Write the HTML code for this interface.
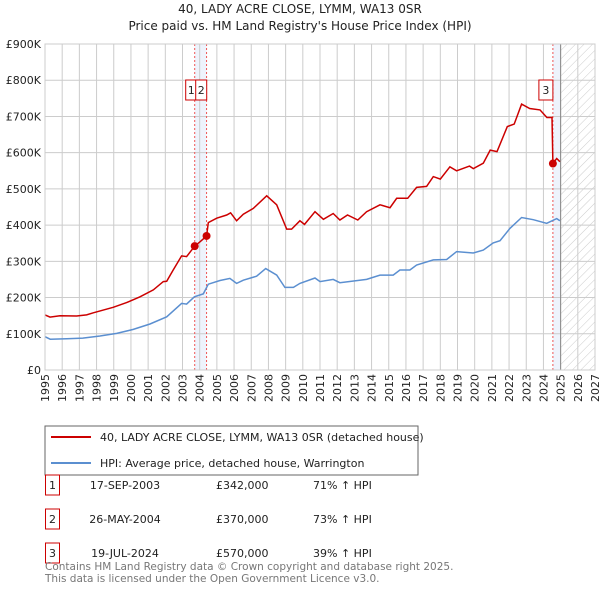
<!DOCTYPE html>
<html><head><meta charset="utf-8"><style>
body{margin:0;background:#fff;font-family:"DejaVu Sans","Liberation Sans",sans-serif;}
#wrap{position:relative;width:600px;height:590px;overflow:hidden}
svg text{font-family:"DejaVu Sans","Liberation Sans",sans-serif;}
</style></head><body>
<div id="wrap">
<svg id="chart" width="600" height="590" xmlns="http://www.w3.org/2000/svg">
<defs><pattern id="hatch" width="6" height="6" patternUnits="userSpaceOnUse" patternTransform="rotate(45)"><line x1="0" y1="0" x2="0" y2="6" stroke="#ccc" stroke-width="1"/></pattern></defs>
<text x="300" y="13" text-anchor="middle" font-size="12" fill="#222">40, LADY ACRE CLOSE, LYMM, WA13 0SR</text>
<text x="300" y="30" text-anchor="middle" font-size="12" fill="#222">Price paid vs. HM Land Registry's House Price Index (HPI)</text>
<g id="grid"></g><g id="marks"></g><g id="axes"></g>
<rect x="45" y="426" width="373" height="49" fill="#fff" stroke="#666"/>
<line x1="51" y1="437" x2="91" y2="437" stroke="#cc0000" stroke-width="2"/>
<text x="100" y="441" font-size="11" fill="#222">40, LADY ACRE CLOSE, LYMM, WA13 0SR (detached house)</text>
<line x1="51" y1="463" x2="91" y2="463" stroke="#5b8fd0" stroke-width="2"/>
<text x="100" y="467" font-size="11" fill="#222">HPI: Average price, detached house, Warrington</text>
<g id="table" font-size="11" fill="#222"></g>
<text x="45" y="570" font-size="10.5" fill="#777">Contains HM Land Registry data © Crown copyright and database right 2025.</text>
<text x="45" y="582" font-size="10.5" fill="#777">This data is licensed under the Open Government Licence v3.0.</text>
</svg></div>
<script>
const yTicks=[0,100,200,300,400,500,600,700,800,900];
const yTickLabels=["£0","£100K","£200K","£300K","£400K","£500K","£600K","£700K","£800K","£900K"];
const xYears=[1995,1996,1997,1998,1999,2000,2001,2002,2003,2004,2005,2006,2007,2008,2009,2010,2011,2012,2013,2014,2015,2016,2017,2018,2019,2020,2021,2022,2023,2024,2025,2026,2027];
const hpiYears=[1995,1995.3,1996.26,1997.2,1998.2,1999.17,2000.14,2001.11,2002.08,2002.95,2003.24,2003.69,2004.21,2004.5,2005.18,2005.76,2006.15,2006.54,2007.31,2007.84,2008.48,2008.96,2009.45,2009.83,2010.71,2011.0,2011.77,2012.16,2013.71,2014.49,2015.26,2015.65,2016.23,2016.62,2017.59,2018.37,2018.95,2019.92,2020.5,2021.08,2021.47,2022.05,2022.73,2023.41,2024.19,2024.77,2024.96];
const hpiValues=[92,85,86,88,94,101,112,127,147,184,182,202,210,237,247,253,239,248,259,280,262,228,228,239,254,244,250,241,250,262,262,276,276,290,304,305,327,323,331,351,357,391,421,415,405,418,412];
const priceYears=[1995,1995.29,1995.87,1996.84,1997.42,1997.81,1998.97,1999.75,2000.53,2001.30,2001.88,2002.08,2002.46,2002.95,2003.24,2003.71,2004.02,2004.40,2004.5,2004.99,2005.57,2005.80,2006.15,2006.54,2007.12,2007.90,2008.48,2009.06,2009.35,2009.83,2010.1,2010.71,2011.2,2011.77,2012.16,2012.6,2013.2,2013.71,2014.49,2015.07,2015.46,2016.1,2016.62,2017.2,2017.59,2018.0,2018.56,2018.95,2019.7,2019.92,2020.5,2020.9,2021.3,2021.9,2022.3,2022.73,2023.2,2023.8,2024.2,2024.5,2024.55,2024.77,2024.96];
const priceValues=[152,146,150,149,152,158,173,186,202,221,244,245,276,315,313,342,354,370,407,419,428,434,412,430,446,481,456,389,389,412,402,437,416,432,414,428,414,437,456,448,474,474,504,507,534,527,561,550,563,556,571,607,603,672,679,734,722,718,697,697,570,584,575];
const sales=[{n:"1",year:2003.71,value:342,date:"17-SEP-2003",price:"£342,000",hpi:"71% ↑ HPI"},{n:"2",year:2004.40,value:370,date:"26-MAY-2004",price:"£370,000",hpi:"73% ↑ HPI"},{n:"3",year:2024.55,value:570,date:"19-JUL-2024",price:"£570,000",hpi:"39% ↑ HPI"}];
const X0=45,X1=595,Y0=370,Y1=44;
function xs(y){return X0+(y-1995)*(X1-X0)/32;}
function ys(v){return Y0-v*(Y0-Y1)/900;}
const NS="http://www.w3.org/2000/svg";
function mk(p,t,a){const e=document.createElementNS(NS,t);for(const k in a)e.setAttribute(k,a[k]);p.appendChild(e);return e;}
const grid=document.getElementById('grid'),marks=document.getElementById('marks'),axes=document.getElementById('axes'),table=document.getElementById('table');
let b=mk(grid,'rect',{x:xs(sales[0].year),y:Y1,width:xs(sales[1].year)-xs(sales[0].year),height:Y0-Y1,fill:'#eef3fc'});


b=mk(grid,'rect',{x:xs(sales[2].year),y:Y1,width:xs(2025)-xs(sales[2].year),height:Y0-Y1,fill:'#eef3fc'});


b=mk(grid,'rect',{x:xs(2025),y:Y1,width:X1-xs(2025),height:Y0-Y1,fill:'url(#hatch)'});


xYears.forEach(y=>{const l=mk(grid,'line',{x1:xs(y),x2:xs(y),y1:Y1,y2:Y0,stroke:'#ccc','stroke-width':1});


const t=mk(axes,'text',{x:0,y:0,'font-size':11,fill:'#222','text-anchor':'end',transform:`translate(${xs(y)+4},374) rotate(-90)`});t.textContent=y;

});
yTicks.forEach((v,i)=>{const l=mk(grid,'line',{x1:X0,x2:X1,y1:ys(v),y2:ys(v),stroke:'#ccc','stroke-width':1});


const t=mk(axes,'text',{x:41,y:ys(v)+4,'font-size':11,fill:'#222','text-anchor':'end'});t.textContent=yTickLabels[i];

});
const fl=mk(grid,'line',{x1:xs(2025),x2:xs(2025),y1:Y1,y2:Y0,stroke:'#888','stroke-width':1});


sales.forEach(s=>{const l=mk(grid,'line',{x1:xs(s.year),x2:xs(s.year),y1:Y1,y2:Y0,stroke:'#e55','stroke-width':1,'stroke-dasharray':'2,2'});

});
function path(xa,va){return xa.map((y,i)=>(i?'L':'M')+xs(y).toFixed(1)+','+ys(va[i]).toFixed(1)).join('');}
let p=mk(marks,'path',{d:path(hpiYears,hpiValues),fill:'none',stroke:'#5b8fd0','stroke-width':1.5});


p=mk(marks,'path',{d:path(priceYears,priceValues),fill:'none',stroke:'#cc0000','stroke-width':1.5});


sales.forEach((s,i)=>{const c=mk(marks,'circle',{cx:xs(s.year),cy:ys(s.value),r:4,fill:'#cc0000'});


const bx=i===0?xs(s.year)-9:i===1?xs(sales[0].year)+1:xs(s.year)-14;
const g=mk(marks,'g',{});


mk(g,'rect',{x:bx,y:80,width:i===2?14:11,height:20,fill:'#fff',stroke:'#cc0000'});
const t=mk(g,'text',{x:bx+(i===2?7:5.5),y:94,'font-size':11,fill:'#222','text-anchor':'middle'});t.textContent=s.n;
const ry=[487,521,555][i];
const r=mk(table,'g',{});


mk(r,'rect',{x:45.5,y:ry-12,width:14,height:20,fill:'#fff',stroke:'#cc0000'});
let tt=mk(r,'text',{x:52.5,y:ry+2,'text-anchor':'middle'});tt.textContent=s.n;
tt=mk(r,'text',{x:125,y:ry+2,'text-anchor':'middle'});tt.textContent=s.date;
tt=mk(r,'text',{x:216,y:ry+2});tt.textContent=s.price;
tt=mk(r,'text',{x:313,y:ry+2});tt.textContent=s.hpi;});
const bd=mk(axes,'rect',{x:X0,y:Y1,width:X1-X0,height:Y0-Y1,fill:'none',stroke:'#ccc'});


</script></body></html>
